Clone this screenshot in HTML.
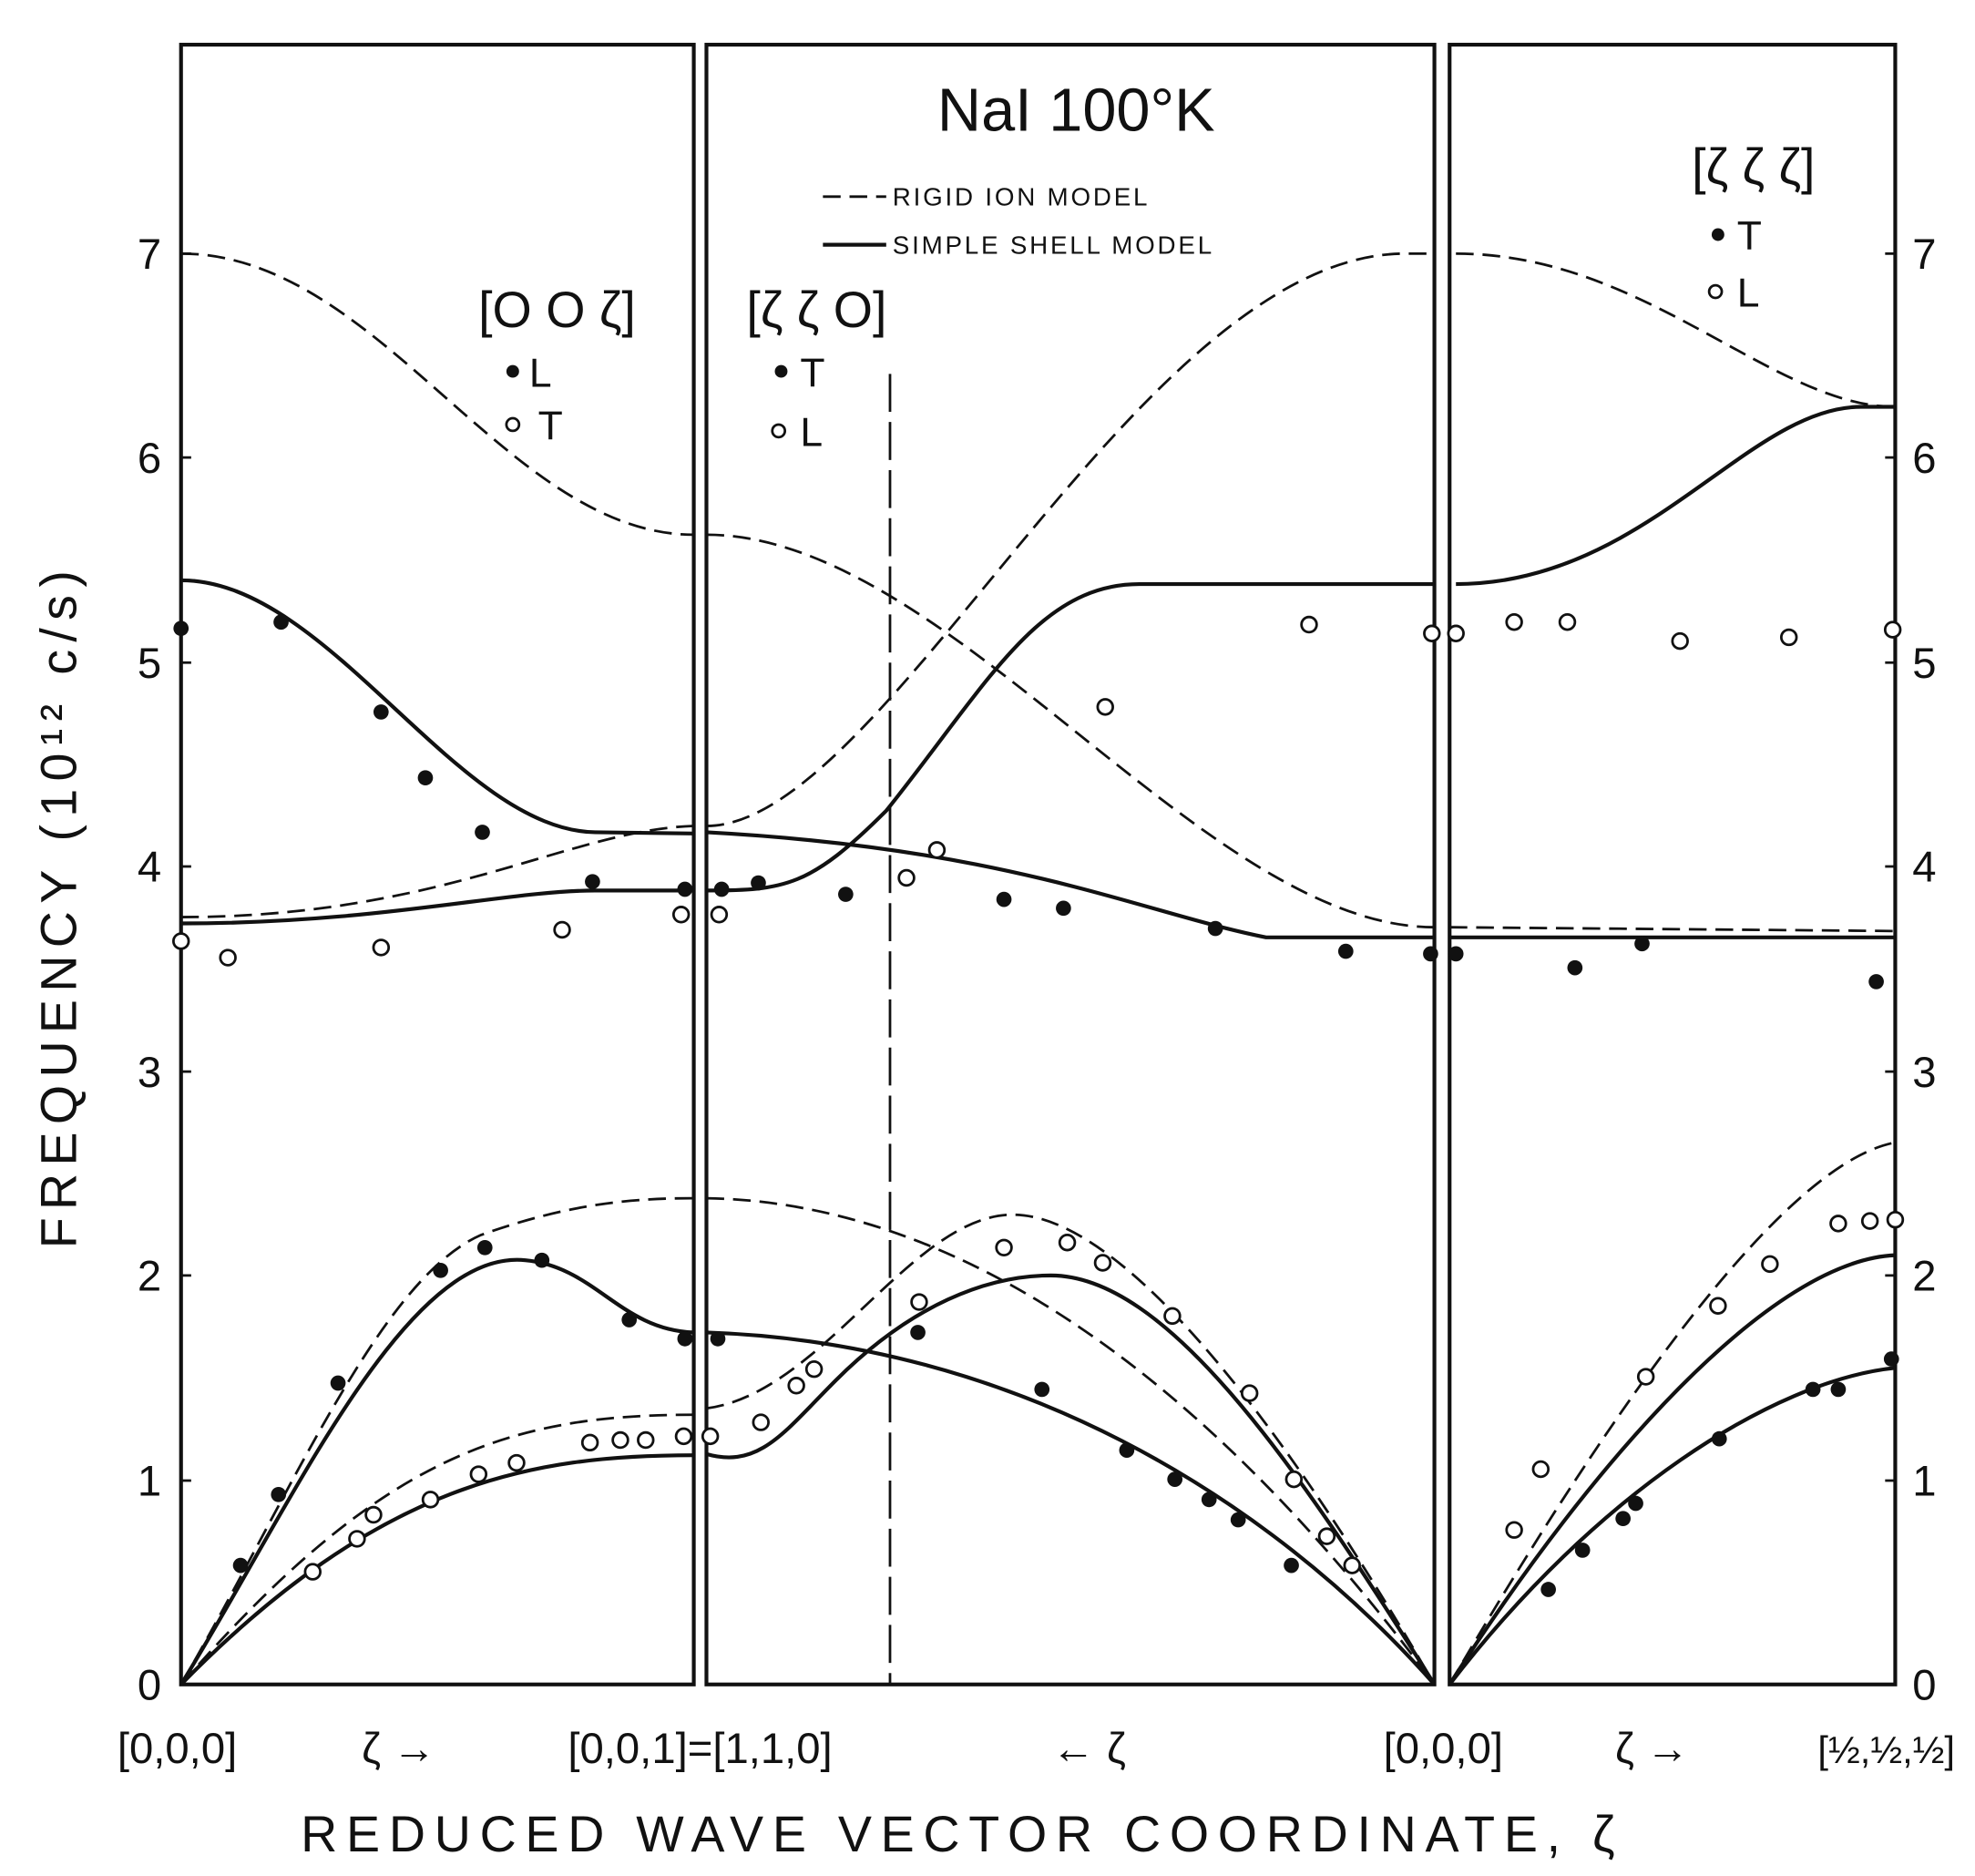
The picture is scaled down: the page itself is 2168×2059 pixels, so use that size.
<!DOCTYPE html>
<html><head><meta charset="utf-8"><style>html,body{margin:0;padding:0;background:#fff}svg{display:block}</style></head>
<body>
<svg width="2168" height="2059" viewBox="0 0 1560 1481" xmlns="http://www.w3.org/2000/svg" font-family="Liberation Sans, DejaVu Sans, sans-serif" fill="none" stroke="#111">
<rect x="143" y="35" width="405" height="1295" stroke-width="3"/>
<rect x="558" y="35" width="575" height="1295" stroke-width="3"/>
<rect x="1145" y="35" width="352" height="1295" stroke-width="3"/>
<g stroke-width="2">
<path d="M143,1169h8M143,1007h8M143,846h8M143,684h8M143,523h8M143,361h8M143,200h8"/>
<path d="M1497,1169h-8M1497,1007h-8M1497,846h-8M1497,684h-8M1497,523h-8M1497,361h-8M1497,200h-8"/>
</g>
<g stroke-width="2" stroke-dasharray="14,7">
<path d="M143,200 C300,200 400,422 548,422"/>
<path d="M143,724 C350,724 450,655 548,652"/>
<path d="M143,1330 C230,1180 300,1010 380,975 C450,950 500,946 548,946"/>
<path d="M143,1330 C300,1150 400,1117 548,1117"/>
<path d="M558,422 C750,422 950,732 1133,732"/>
<path d="M558,652 C700,652 900,200 1110,200 L1133,200"/>
<path d="M558,946 C800,950 1000,1150 1133,1330"/>
<path d="M558,1112 C650,1100 720,959 800,959 C880,959 1000,1100 1133,1330"/>
<path d="M1150,200 C1300,200 1400,321 1497,321"/>
<path d="M1145,732 L1497,735"/>
<path d="M1145,1330 C1250,1150 1400,920 1497,902"/>
<path d="M703,295 V1330" stroke-dasharray="30,8"/>
<path d="M650,155 H700"/>
</g>
<g stroke-width="3">
<path d="M143,458 C260,458 360,655 470,657 L548,658"/>
<path d="M143,729 C300,729 400,703 470,703 L548,703"/>
<path d="M143,1330 C230,1190 320,985 415,995 C470,1000 490,1050 548,1052"/>
<path d="M143,1330 C300,1170 420,1149 548,1149"/>
<path d="M558,657 C800,670 900,720 1000,740 L1133,740"/>
<path d="M558,703 C620,703 640,700 700,640 C780,540 820,461 900,461 L1133,461"/>
<path d="M558,1052 C800,1060 1000,1180 1133,1330"/>
<path d="M558,1148 C600,1160 620,1130 660,1090 C720,1030 780,1007 830,1007 C920,1007 1020,1150 1133,1330"/>
<path d="M1150,461 C1300,461 1380,321 1470,321 L1497,321"/>
<path d="M1145,740 L1497,740"/>
<path d="M1145,1330 C1260,1150 1400,995 1497,991"/>
<path d="M1145,1330 C1260,1180 1400,1090 1497,1080"/>
<path d="M650,193 H700"/>
</g>
<g fill="#111" stroke="none">
<circle cx="143" cy="496" r="6"/><circle cx="222" cy="491" r="6"/><circle cx="301" cy="562" r="6"/><circle cx="336" cy="614" r="6"/><circle cx="381" cy="657" r="6"/><circle cx="468" cy="696" r="6"/><circle cx="541" cy="702" r="6"/>
<circle cx="190" cy="1236" r="6"/><circle cx="220" cy="1180" r="6"/><circle cx="267" cy="1092" r="6"/><circle cx="348" cy="1003" r="6"/><circle cx="383" cy="985" r="6"/><circle cx="428" cy="995" r="6"/><circle cx="497" cy="1042" r="6"/><circle cx="541" cy="1057" r="6"/>
<circle cx="570" cy="702" r="6"/><circle cx="599" cy="697" r="6"/><circle cx="668" cy="706" r="6"/><circle cx="793" cy="710" r="6"/><circle cx="840" cy="717" r="6"/><circle cx="960" cy="733" r="6"/><circle cx="1063" cy="751" r="6"/><circle cx="1130" cy="753" r="6"/>
<circle cx="567" cy="1057" r="6"/><circle cx="725" cy="1052" r="6"/><circle cx="823" cy="1097" r="6"/><circle cx="890" cy="1145" r="6"/><circle cx="928" cy="1168" r="6"/><circle cx="955" cy="1184" r="6"/><circle cx="978" cy="1200" r="6"/><circle cx="1020" cy="1236" r="6"/>
<circle cx="1150" cy="753" r="6"/><circle cx="1244" cy="764" r="6"/><circle cx="1297" cy="745" r="6"/><circle cx="1482" cy="775" r="6"/>
<circle cx="1223" cy="1255" r="6"/><circle cx="1250" cy="1224" r="6"/><circle cx="1282" cy="1199" r="6"/><circle cx="1292" cy="1187" r="6"/><circle cx="1358" cy="1136" r="6"/><circle cx="1432" cy="1097" r="6"/><circle cx="1452" cy="1097" r="6"/><circle cx="1494" cy="1073" r="6"/>
<circle cx="405" cy="293" r="5"/><circle cx="617" cy="293" r="5"/><circle cx="1357" cy="185" r="5"/>
</g>
<g fill="#fff" stroke-width="2">
<circle cx="143" cy="743" r="6"/><circle cx="180" cy="756" r="6"/><circle cx="301" cy="748" r="6"/><circle cx="444" cy="734" r="6"/><circle cx="538" cy="722" r="6"/>
<circle cx="247" cy="1241" r="6"/><circle cx="282" cy="1215" r="6"/><circle cx="295" cy="1196" r="6"/><circle cx="340" cy="1184" r="6"/><circle cx="378" cy="1164" r="6"/><circle cx="408" cy="1155" r="6"/><circle cx="466" cy="1139" r="6"/><circle cx="490" cy="1137" r="6"/><circle cx="510" cy="1137" r="6"/><circle cx="540" cy="1134" r="6"/>
<circle cx="568" cy="722" r="6"/><circle cx="716" cy="693" r="6"/><circle cx="740" cy="671" r="6"/><circle cx="873" cy="558" r="6"/><circle cx="1034" cy="493" r="6"/><circle cx="1131" cy="500" r="6"/>
<circle cx="561" cy="1134" r="6"/><circle cx="601" cy="1123" r="6"/><circle cx="629" cy="1094" r="6"/><circle cx="643" cy="1081" r="6"/><circle cx="726" cy="1028" r="6"/><circle cx="793" cy="985" r="6"/><circle cx="843" cy="981" r="6"/><circle cx="871" cy="997" r="6"/><circle cx="926" cy="1039" r="6"/><circle cx="987" cy="1100" r="6"/><circle cx="1022" cy="1168" r="6"/><circle cx="1048" cy="1213" r="6"/><circle cx="1068" cy="1236" r="6"/>
<circle cx="1150" cy="500" r="6"/><circle cx="1196" cy="491" r="6"/><circle cx="1238" cy="491" r="6"/><circle cx="1327" cy="506" r="6"/><circle cx="1413" cy="503" r="6"/><circle cx="1495" cy="497" r="6"/>
<circle cx="1196" cy="1208" r="6"/><circle cx="1217" cy="1160" r="6"/><circle cx="1300" cy="1087" r="6"/><circle cx="1357" cy="1031" r="6"/><circle cx="1398" cy="998" r="6"/><circle cx="1452" cy="966" r="6"/><circle cx="1477" cy="964" r="6"/><circle cx="1497" cy="963" r="6"/>
<circle cx="405" cy="335" r="5"/><circle cx="615" cy="340" r="5"/><circle cx="1355" cy="230" r="5"/>
</g>
<g fill="#111" stroke="none" font-size="34">
<g text-anchor="middle">
<text x="118" y="1342">0</text><text x="118" y="1181">1</text><text x="118" y="1019">2</text><text x="118" y="858">3</text><text x="118" y="696">4</text><text x="118" y="535">5</text><text x="118" y="373">6</text><text x="118" y="212">7</text>
<text x="1520" y="1342">0</text><text x="1520" y="1181">1</text><text x="1520" y="1019">2</text><text x="1520" y="858">3</text><text x="1520" y="696">4</text><text x="1520" y="535">5</text><text x="1520" y="373">6</text><text x="1520" y="212">7</text>
<text x="850" y="103" font-size="48">NaI 100°K</text>
<text x="440" y="258" font-size="40">[O O ζ]</text>
<text x="645" y="258" font-size="40">[ζ ζ O]</text>
<text x="1385" y="145" font-size="40">[ζ ζ ζ]</text>
<text x="140" y="1392" font-size="34">[0,0,0]</text>
<text x="315" y="1392" font-size="34">ζ →</text>
<text x="553" y="1392" font-size="34">[0,0,1]=[1,1,0]</text>
<text x="860" y="1392" font-size="34">← ζ</text>
<text x="1140" y="1392" font-size="34">[0,0,0]</text>
<text x="1305" y="1392" font-size="34">ζ →</text>
<text x="1490" y="1392" font-size="30">[½,½,½]</text>
<text x="760" y="1462" font-size="40" letter-spacing="7">REDUCED WAVE VECTOR COORDINATE, ζ</text>
</g>
<text x="418" y="305" font-size="32">L</text><text x="425" y="347" font-size="32">T</text>
<text x="632" y="305" font-size="32">T</text><text x="632" y="352" font-size="32">L</text>
<text x="1372" y="197" font-size="32">T</text><text x="1372" y="242" font-size="32">L</text>
<text x="705" y="162" font-size="20" letter-spacing="2">RIGID ION MODEL</text>
<text x="705" y="200" font-size="20" letter-spacing="2">SIMPLE SHELL MODEL</text>
<text transform="translate(60,715) rotate(-90)" text-anchor="middle" font-size="40" letter-spacing="6">FREQUENCY (10¹² c/s)</text>
</g>
</svg>
</body></html>
